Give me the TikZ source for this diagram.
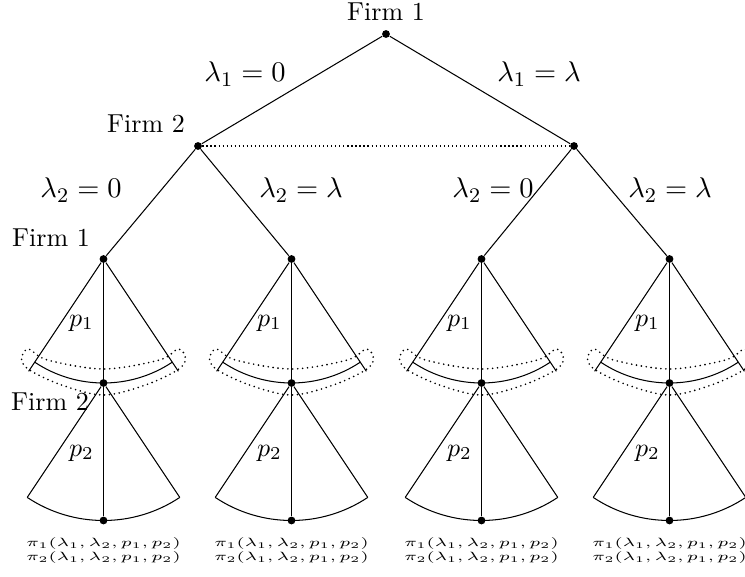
\documentclass[tikz,border=0pt]{standalone}
\usepackage{graphicx}
\usetikzlibrary{calc}
\begin{document}
\begin{tikzpicture}[x=0.385pt,y=0.385pt,
  tnode/.style={circle,fill=black,inner sep=0pt,minimum size=3pt},
  lbl/.style={font=\fontsize{10.9}{13}\selectfont, inner sep=0pt},
  firm/.style={font=\fontsize{10}{12}\selectfont, inner sep=0pt},
  plbl/.style={font=\fontsize{10.3}{12}\selectfont, inner sep=0pt},
  pay/.style={inner sep=0pt},
  infoline/.style={line width=0.45pt, dash pattern=on 0.45pt off 1.1pt},
  band/.style={line width=0.7pt, dash pattern=on 0pt off 1.9pt, line cap=round}]
\useasboundingbox (0,0) rectangle (745,576);
% top levels
\node[tnode] (r) at (386,542) {};
\node[tnode] (a) at (198,430) {};
\node[tnode] (b) at (574,430) {};
\node[firm] (tf1) at (386,564) {Firm 1};
\node[firm] (tf2) at (146,452) {Firm 2};
\draw (r) -- (a);
\draw (r) -- (b);
\draw[infoline] (a) -- (b);
\node[lbl] (l10) at (245,502) {$\lambda_1 = 0$};
\node[lbl] (l1l) at (539,502) {$\lambda_1 = \lambda$};
% third level
\foreach \i/\x in {1/103.5,2/291.5,3/481.5,4/669.5}{
  \node[tnode] (c\i) at (\x,317) {};
  \node[tnode] (d\i) at (\x,193) {};
  \node[tnode] (e\i) at (\x,55.5) {};
  \coordinate (cl\i) at ($(c\i)+(236.3:135)$);
  \coordinate (cr\i) at ($(c\i)+(303.7:135)$);
  \coordinate (ca\i) at ($(c\i)+(236.3:124)$);
  \coordinate (dl\i) at ($(d\i)+(236.3:137.5)$);
  \coordinate (dr\i) at ($(d\i)+(303.7:137.5)$);
  \draw (c\i) -- (cl\i);
  \draw (c\i) -- (cr\i);
  \draw (c\i) -- (d\i);
  \draw (ca\i) arc[start angle=236.3,end angle=303.7,radius=47.74pt];
  \draw (d\i) -- (dl\i);
  \draw (d\i) -- (dr\i);
  \draw (d\i) -- (e\i);
  \draw (dl\i) arc[start angle=236.3,end angle=303.7,radius=52.94pt];
  \begin{scope}[shift={(c\i)}]
    \draw[band] plot[smooth cycle, tension=0.55] coordinates {
      (-74,-111) (-42,-126) (0,-136) (42,-126) (74,-111) (82,-100)
      (75,-90) (56,-101) (0,-110) (-56,-101) (-75,-90) (-82,-100)};
  \end{scope}
  \node[plbl] (p1\i) at ($(c\i)+(-22,-64)$) {$p_1$};
  \node[plbl] (p2\i) at ($(d\i)+(-22,-70)$) {$p_2$};
  \node[pay] (f\i) at (\x,25.25) {\scalebox{1}[0.66]{\fontsize{7.45}{8.4}\selectfont\begin{tabular}{@{}c@{}}$\pi_1(\lambda_1,\lambda_2,p_1,p_2)$\\$\pi_2(\lambda_1,\lambda_2,p_1,p_2)$\end{tabular}}};
}
\draw (a) -- (c1);
\draw (a) -- (c2);
\draw (b) -- (c3);
\draw (b) -- (c4);
\node[lbl] (l20a) at (81,386) {$\lambda_2 = 0$};
\node[lbl] (l2la) at (301,386) {$\lambda_2 = \lambda$};
\node[lbl] (l20b) at (493,386) {$\lambda_2 = 0$};
\node[lbl] (l2lb) at (670,386) {$\lambda_2 = \lambda$};
\node[firm] (mf1) at (51,338) {Firm 1};
\node[firm] (mf2) at (50,174) {Firm 2};
\end{tikzpicture}
\end{document}
